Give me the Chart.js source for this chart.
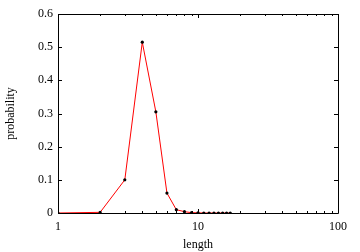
<!DOCTYPE html>
<html><head><meta charset="utf-8">
<script src="https://cdn.jsdelivr.net/npm/chart.js@4"></script>
<style>html,body{margin:0;padding:0;background:#fff}#w{width:360px;height:252px}</style>
</head><body><div id="w"><canvas id="c"></canvas></div>
<script>
const lengths = [1,2,3,4,5,6,7,8,9,10,11,12,13,14,15,16,17];
const probability = [0,0.002,0.1,0.515,0.305,0.06,0.01,0.004,0.001,0.0005,0,0,0,0,0,0,0];
const xTickLabels = [1,10,100];
const yTickLabels = [0,0.1,0.2,0.3,0.4,0.5,0.6];
const FONT = "'Liberation Serif', 'Times New Roman', serif";

const framePlugin = {
  id:'frame',
  afterDraw(chart){
    const {ctx, chartArea:a, scales:{x,y}} = chart;
    ctx.save();
    ctx.strokeStyle='#000'; ctx.lineWidth=1;
    ctx.beginPath();
    ctx.rect(Math.round(a.left)+0.5, Math.round(a.top)+0.5, Math.round(a.right-a.left), Math.round(a.bottom-a.top));
    ctx.stroke();
    ctx.beginPath();
    for(let d=1; d<100; d*=10){
      for(let m=1;m<=10;m++){
        const v=d*m; if(v>100) continue;
        const px=Math.round(x.getPixelForValue(v))+0.5;
        const L = (m===1||m===10)?4:2;
        ctx.moveTo(px,a.bottom); ctx.lineTo(px,a.bottom-L);
        ctx.moveTo(px,a.top); ctx.lineTo(px,a.top+L);
      }
    }
    yTickLabels.forEach(v=>{
      const py=Math.round(y.getPixelForValue(v))+0.5;
      ctx.moveTo(a.left,py); ctx.lineTo(a.left+4,py);
      ctx.moveTo(a.right,py); ctx.lineTo(a.right-4,py);
    });
    ctx.stroke();
    ctx.restore();
  }
};

new Chart(document.getElementById('c'),{
  type:'line',
  data:{datasets:[{
    data: lengths.map((l,i)=>({x:l,y:probability[i]})),
    borderColor:'#ff0000', borderWidth:1,
    pointBackgroundColor:'#000', pointBorderColor:'#000',
    pointRadius:1.6, pointBorderWidth:0, tension:0
  }]},
  options:{
    responsive:true, maintainAspectRatio:false, animation:false,
    layout:{padding:{left:0,right:22,top:14,bottom:0}},
    plugins:{legend:{display:false},tooltip:{enabled:false}},
    scales:{
      x:{type:'logarithmic', min:1, max:100,
        afterBuildTicks(s){ s.ticks = xTickLabels.map(v=>({value:v})); },
        afterFit(s){ s.height = 39; },
        grid:{display:false, drawTicks:false},
        border:{display:false},
        ticks:{color:'#000', font:{family:FONT,size:12}, padding:7, maxRotation:0,
          callback:(v)=>String(v)},
        title:{display:true,text:'length',color:'#000',font:{family:FONT,size:12},padding:{top:3,bottom:0}}
      },
      y:{min:0,max:0.6,
        afterBuildTicks(s){ s.ticks = yTickLabels.map(v=>({value:v})); },
        afterFit(s){ s.width = 58; },
        grid:{display:false, drawTicks:false},
        border:{display:false},
        ticks:{color:'#000', font:{family:FONT,size:12}, padding:5,
          callback:(v)=>String(Math.round(v*10)/10)},
        title:{display:true,text:'probability',color:'#000',font:{family:FONT,size:12},padding:{top:4,bottom:0}}
      }
    }
  },
  plugins:[framePlugin]
});
</script></body></html>
